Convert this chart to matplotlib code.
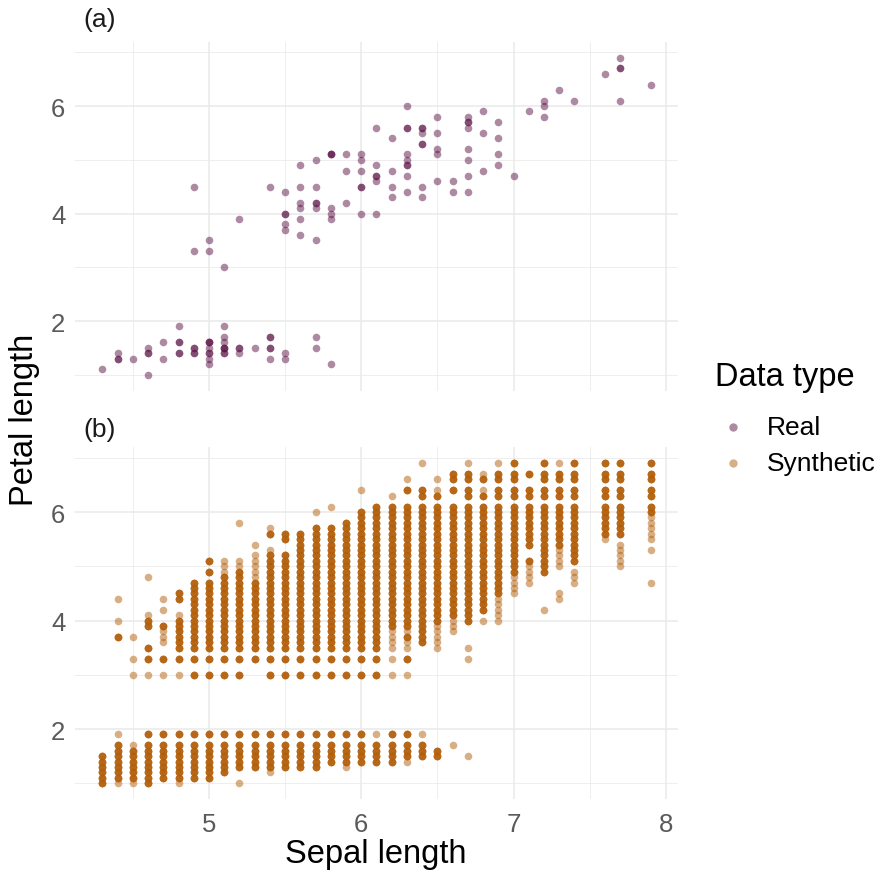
import matplotlib
matplotlib.use("Agg")
import matplotlib.pyplot as plt
from matplotlib.lines import Line2D
import numpy as np

plt.rcParams['font.family'] = ['Liberation Sans', 'DejaVu Sans']

# real iris data: sepal length, petal length
real_sepal = [5.1, 4.9, 4.7, 4.6, 5.0, 5.4, 4.6, 5.0, 4.4, 4.9, 5.4, 4.8, 4.8, 4.3, 5.8, 5.7, 5.4, 5.1, 5.7, 5.1,
              5.4, 5.1, 4.6, 5.1, 4.8, 5.0, 5.0, 5.2, 5.2, 4.7, 4.8, 5.4, 5.2, 5.5, 4.9, 5.0, 5.5, 4.9, 4.4, 5.1,
              5.0, 4.5, 4.4, 5.0, 5.1, 4.8, 5.1, 4.6, 5.3, 5.0,
              7.0, 6.4, 6.9, 5.5, 6.5, 5.7, 6.3, 4.9, 6.6, 5.2, 5.0, 5.9, 6.0, 6.1, 5.6, 6.7, 5.6, 5.8, 6.2, 5.6,
              5.9, 6.1, 6.3, 6.1, 6.4, 6.6, 6.8, 6.7, 6.0, 5.7, 5.5, 5.5, 5.8, 6.0, 5.4, 6.0, 6.7, 6.3, 5.6, 5.5,
              5.5, 6.1, 5.8, 5.0, 5.6, 5.7, 5.7, 6.2, 5.1, 5.7,
              6.3, 5.8, 7.1, 6.3, 6.5, 7.6, 4.9, 7.3, 6.7, 7.2, 6.5, 6.4, 6.8, 5.7, 5.8, 6.4, 6.5, 7.7, 7.7, 6.0,
              6.9, 5.6, 7.7, 6.3, 6.7, 7.2, 6.2, 6.1, 6.4, 7.2, 7.4, 7.9, 6.4, 6.3, 6.1, 7.7, 6.3, 6.4, 6.0, 6.9,
              6.7, 6.9, 5.8, 6.8, 6.7, 6.7, 6.3, 6.5, 6.2, 5.9]
real_petal = [1.4, 1.4, 1.3, 1.5, 1.4, 1.7, 1.4, 1.5, 1.4, 1.5, 1.5, 1.6, 1.4, 1.1, 1.2, 1.5, 1.3, 1.4, 1.7, 1.5,
              1.7, 1.5, 1.0, 1.7, 1.9, 1.6, 1.6, 1.5, 1.4, 1.6, 1.6, 1.5, 1.5, 1.4, 1.5, 1.2, 1.3, 1.4, 1.3, 1.5,
              1.3, 1.3, 1.3, 1.6, 1.9, 1.4, 1.6, 1.4, 1.5, 1.4,
              4.7, 4.5, 4.9, 4.0, 4.6, 4.5, 4.7, 3.3, 4.6, 3.9, 3.5, 4.2, 4.0, 4.7, 3.6, 4.4, 4.5, 4.1, 4.5, 3.9,
              4.8, 4.0, 4.9, 4.7, 4.3, 4.4, 4.8, 5.0, 4.5, 3.5, 3.8, 3.7, 3.9, 5.1, 4.5, 4.5, 4.7, 4.4, 4.1, 4.0,
              4.4, 4.6, 4.0, 3.3, 4.2, 4.2, 4.2, 4.3, 3.0, 4.1,
              6.0, 5.1, 5.9, 5.6, 5.8, 6.6, 4.5, 6.3, 5.8, 6.1, 5.1, 5.3, 5.5, 5.0, 5.1, 5.3, 5.5, 6.7, 6.9, 5.0,
              5.7, 4.9, 6.7, 4.9, 5.7, 6.0, 4.8, 4.9, 5.6, 5.8, 6.1, 6.4, 5.6, 5.1, 5.6, 6.1, 5.6, 5.5, 4.8, 5.4,
              5.6, 5.1, 5.1, 5.9, 5.7, 5.2, 5.0, 5.2, 5.4, 5.1]

# synthetic data, per sepal-length column: petal spans (lo, hi) read in 0.1 steps
syn_sepal = [4.3, 4.4, 4.5, 4.6, 4.7, 4.8, 4.9, 5.0, 5.1, 5.2, 5.3, 5.4, 5.5, 5.6, 5.7, 5.8, 5.9, 6.0, 6.1,
             6.2, 6.3, 6.4, 6.5, 6.6, 6.7, 6.8, 6.9, 7.0, 7.1, 7.2, 7.3, 7.4, 7.6, 7.7, 7.9]
syn_dense = [
    [(1.0, 1.5)],
    [(1.1, 1.7), (3.7, 3.7)],
    [(1.1, 1.6)],
    [(1.0, 1.7), (1.9, 1.9), (3.3, 3.3), (3.5, 3.5), (3.9, 4.0)],
    [(1.1, 1.7), (1.9, 1.9), (3.3, 3.3), (3.9, 3.9)],
    [(1.1, 1.7), (1.9, 1.9), (3.3, 3.3), (3.5, 4.0), (4.4, 4.5)],
    [(1.1, 1.7), (1.9, 1.9), (3.0, 3.0), (3.3, 3.3), (3.5, 4.7)],
    [(1.1, 1.7), (1.9, 1.9), (3.0, 3.0), (3.3, 3.3), (3.5, 4.7), (4.9, 4.9), (5.1, 5.1)],
    [(1.2, 1.7), (1.9, 1.9), (3.0, 3.0), (3.3, 3.3), (3.5, 4.8)],
    [(1.3, 1.7), (1.9, 1.9), (3.0, 3.0), (3.3, 3.3), (3.5, 4.9)],
    [(1.3, 1.7), (1.9, 1.9), (3.3, 3.3), (3.5, 4.7)],
    [(1.3, 1.7), (1.9, 1.9), (3.0, 3.0), (3.3, 3.3), (3.5, 5.2), (5.6, 5.6)],
    [(1.3, 1.7), (1.9, 1.9), (3.0, 3.0), (3.3, 3.3), (3.5, 5.2), (5.5, 5.6)],
    [(1.3, 1.7), (1.9, 1.9), (3.0, 3.0), (3.3, 3.3), (3.5, 5.6)],
    [(1.3, 1.7), (1.9, 1.9), (3.0, 3.0), (3.3, 3.3), (3.5, 5.7)],
    [(1.4, 1.7), (1.9, 1.9), (3.0, 3.0), (3.3, 3.3), (3.5, 5.7)],
    [(1.4, 1.7), (1.9, 1.9), (3.0, 3.0), (3.3, 3.3), (3.5, 5.8)],
    [(1.4, 1.7), (1.9, 1.9), (3.0, 3.0), (3.3, 3.3), (3.5, 6.0)],
    [(1.4, 1.7), (3.0, 3.0), (3.3, 3.3), (3.5, 6.1)],
    [(1.4, 1.7), (1.9, 1.9), (3.9, 6.1)],
    [(1.5, 1.7), (1.9, 1.9), (3.3, 3.3), (3.7, 3.7), (3.9, 6.1), (6.4, 6.4)],
    [(1.5, 1.7), (3.6, 6.1), (6.3, 6.4)],
    [(1.5, 1.6), (4.0, 6.1), (6.3, 6.3)],
    [(4.1, 6.1), (6.4, 6.4), (6.6, 6.7)],
    [(4.0, 6.1), (6.3, 6.4), (6.6, 6.7)],
    [(4.2, 6.1), (6.3, 6.3), (6.6, 6.6)],
    [(4.5, 6.1), (6.3, 6.4), (6.6, 6.7)],
    [(4.9, 6.1), (6.3, 6.4), (6.6, 6.7), (6.9, 6.9)],
    [(5.1, 5.1), (5.4, 6.1), (6.3, 6.4), (6.7, 6.7)],
    [(4.9, 6.1), (6.3, 6.4), (6.6, 6.7), (6.9, 6.9)],
    [(5.4, 6.1), (6.3, 6.4), (6.6, 6.7)],
    [(5.1, 6.1), (6.3, 6.4), (6.6, 6.7), (6.9, 6.9)],
    [(5.6, 6.1), (6.3, 6.4), (6.6, 6.7), (6.9, 6.9)],
    [(5.6, 6.1), (6.3, 6.4), (6.6, 6.7), (6.9, 6.9)],
    [(6.0, 6.1), (6.3, 6.4), (6.6, 6.7), (6.9, 6.9)],
]
syn_light = [
    [],
    [(1.0, 1.0), (1.9, 1.9), (4.0, 4.0), (4.4, 4.4)],
    [(1.0, 1.0), (1.7, 1.7), (3.0, 3.0), (3.3, 3.3), (3.7, 3.7)],
    [(3.0, 3.0), (4.1, 4.1), (4.8, 4.8)],
    [(3.0, 3.0), (3.6, 3.8), (4.2, 4.2), (4.4, 4.4)],
    [(1.0, 1.0), (3.0, 3.0), (4.1, 4.1)],
    [],
    [],
    [(4.9, 5.1)],
    [(1.0, 1.0), (5.0, 5.1), (5.8, 5.8)],
    [(4.8, 5.2), (5.4, 5.4)],
    [(1.2, 1.2), (5.3, 5.3), (5.7, 5.7)],
    [],
    [],
    [(6.0, 6.0)],
    [(6.1, 6.1)],
    [(1.3, 1.3)],
    [(6.4, 6.4)],
    [(1.9, 1.9)],
    [(3.0, 3.0), (3.3, 3.3), (3.5, 3.8), (6.3, 6.3)],
    [(1.4, 1.4), (3.0, 3.0), (3.5, 3.6), (3.8, 3.8), (6.6, 6.6)],
    [(1.9, 1.9), (6.9, 6.9)],
    [(3.5, 3.9), (6.4, 6.4), (6.6, 6.6)],
    [(1.7, 1.7), (3.8, 4.0)],
    [(1.5, 1.5), (3.3, 3.3), (3.5, 3.5), (6.9, 6.9)],
    [(4.0, 4.0), (6.4, 6.4), (6.7, 6.7)],
    [(4.0, 4.4), (6.9, 6.9)],
    [(4.5, 4.8)],
    [(4.7, 5.0)],
    [(4.2, 4.2)],
    [(4.4, 4.5), (5.0, 5.3), (6.9, 6.9)],
    [(4.7, 4.9)],
    [(5.5, 5.5)],
    [(5.0, 5.4)],
    [(4.7, 4.7), (5.3, 5.3), (5.5, 5.9)],
]

real_col = '#5c1447'
syn_col = '#b35f0a'


def expand(spans_list, copies):
    xs, ys = [], []
    for x, spans in zip(syn_sepal, spans_list):
        for lo, hi in spans:
            vals = np.round(np.arange(lo, hi + 0.001, 0.1), 1)
            for _ in range(copies):
                xs += [x] * len(vals)
                ys += list(vals)
    return xs, ys


fig = plt.figure(figsize=(8.81, 8.78), dpi=100)
ax1 = fig.add_axes([75 / 881, 1 - 391.6 / 878, 603 / 881, 348.8 / 878])
ax2 = fig.add_axes([75 / 881, 1 - 800.3 / 878, 603 / 881, 352.1 / 878])

for ax in (ax1, ax2):
    ax.set_xlim(4.12, 8.08)
    ax.set_ylim(0.705, 7.195)
    ax.set_xticks([5, 6, 7, 8])
    ax.set_xticks([4.5, 5.5, 6.5, 7.5], minor=True)
    ax.set_yticks([2, 4, 6])
    ax.set_yticks([1, 3, 5, 7], minor=True)
    ax.grid(True, which='major', color='#ebebeb', lw=1.2)
    ax.grid(True, which='minor', color='#ebebeb', lw=0.6)
    ax.set_axisbelow(True)
    for s in ax.spines.values():
        s.set_visible(False)
    ax.tick_params(which='both', length=0, labelsize=18.5, labelcolor='#5a5a5a', pad=7)

ax1.tick_params(axis='x', labelbottom=False)
ax2.tick_params(axis='x', pad=9)

ax1.scatter(real_sepal, real_petal, s=30, color=real_col, alpha=0.5, linewidths=0)

lx, ly = expand(syn_light, 1)
dx, dy = expand(syn_dense, 4)
ax2.scatter(lx + dx, ly + dy, s=30, color=syn_col, alpha=0.5, linewidths=0)

fig.text(83 / 881, 1 - 20 / 878, '(a)', fontsize=19, va='center', ha='left', color='#1a1a1a')
fig.text(83 / 881, 1 - 430 / 878, '(b)', fontsize=19, va='center', ha='left', color='#1a1a1a')
fig.text(25 / 881, 1 - 420 / 878, 'Petal length', fontsize=23.5, rotation=90, va='center', ha='center')
fig.text(376 / 881, 1 - 855 / 878, 'Sepal length', fontsize=23.5, va='center', ha='center')

# legend drawn by hand
fig.text(715 / 881, 1 - 378 / 878, 'Data type', fontsize=23.5, va='center', ha='left')
for i, (lab, col) in enumerate([('Real', real_col), ('Synthetic', syn_col)]):
    yy = 1 - (428 + 36 * i) / 878
    fig.add_artist(Line2D([733 / 881], [yy], transform=fig.transFigure, ls='', marker='o',
                          markersize=6, color=col, alpha=0.5, mec='none'))
    fig.text(767 / 881, yy, lab, fontsize=19, va='center', ha='left')

fig.savefig('out.png', dpi=100)
